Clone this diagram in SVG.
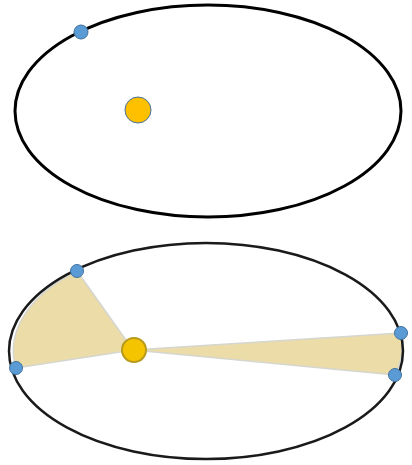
<svg xmlns="http://www.w3.org/2000/svg" width="412" height="465" viewBox="0 0 412 465">
<style>
.orbit{fill:none;stroke:#000;stroke-width:3}
.orbit2{fill:none;stroke:#1a1a1a;stroke-width:2.5}
.planet{fill:#5B9BD5;stroke:#41719C;stroke-width:1}
.sun{fill:#FFC000;stroke:#41719C;stroke-width:1}
.sun2{fill:#F5C400;stroke:#B89A1A;stroke-width:2}
.sector{fill:#EBDCA8;stroke:#D6D6D0;stroke-width:1.5;stroke-linejoin:round}
</style>
<rect width="412" height="465" fill="#fff"/>
<g id="top-diagram">
  <ellipse id="orbit-top" class="orbit" cx="208" cy="111" rx="193" ry="106"/>
  <g id="sun-top"><circle class="sun" cx="138" cy="110" r="13"/></g>
  <g id="planet-top"><circle class="planet" cx="81" cy="32" r="7"/></g>
</g>
<g id="bottom-diagram">
  <g id="sectors">
    <path class="sector" d="M133,350 L77,271 A197,108 0 0,0 16,368 Z"/>
    <path class="sector" d="M133,350 L401,333 A197,108 0 0,1 395,375 Z"/>
  </g>
  <ellipse id="orbit-bottom" class="orbit2" cx="206" cy="351" rx="197" ry="108"/>
  <g id="sun-bottom"><circle class="sun2" cx="134" cy="350" r="12"/></g>
  <g id="planet-1"><circle class="planet" cx="77" cy="271" r="6.5"/></g>
  <g id="planet-2"><circle class="planet" cx="16" cy="368" r="6.5"/></g>
  <g id="planet-3"><circle class="planet" cx="401" cy="333" r="6.5"/></g>
  <g id="planet-4"><circle class="planet" cx="395" cy="375" r="6.5"/></g>
</g>
</svg>
